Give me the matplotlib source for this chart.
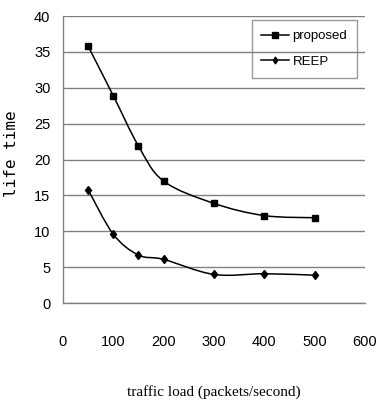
import numpy as np
import matplotlib
matplotlib.use("Agg")
import matplotlib.pyplot as plt
from matplotlib.path import Path
from matplotlib.patches import PathPatch

# values
traffic = [50, 100, 150, 200, 300, 400, 500]
proposed = [35.8, 28.9, 21.9, 17.0, 13.9, 12.2, 11.9]
reep = [15.8, 9.6, 6.7, 6.1, 4.0, 4.1, 3.9]
xticks = [0, 100, 200, 300, 400, 500, 600]
yticks = [0, 5, 10, 15, 20, 25, 30, 35, 40]

tick_font = dict(family='Liberation Sans', size=10.5)


def smooth_path(x, y):
    # excel-like smoothed line: catmull-rom segments as cubic bezier curves
    x = np.asarray(x, float)
    y = np.asarray(y, float)
    verts = [(x[0], y[0])]
    codes = [Path.MOVETO]
    n = len(x)
    for i in range(n - 1):
        i0 = max(i - 1, 0)
        i3 = min(i + 2, n - 1)
        c1 = (x[i] + (x[i + 1] - x[i0]) / 6, y[i] + (y[i + 1] - y[i0]) / 6)
        c2 = (x[i + 1] - (x[i3] - x[i]) / 6, y[i + 1] - (y[i3] - y[i]) / 6)
        verts += [c1, c2, (x[i + 1], y[i + 1])]
        codes += [Path.CURVE4] * 3
    return Path(verts, codes)


fig = plt.figure(figsize=(3.77, 4.01), dpi=100)
ax = fig.add_axes([0.167, 0.244, 0.801, 0.716])

ax.add_patch(PathPatch(smooth_path(traffic, proposed), fill=False, color='black', lw=1.1, zorder=3))
ax.add_patch(PathPatch(smooth_path(traffic, reep), fill=False, color='black', lw=1.1, zorder=3))
ax.plot(traffic, proposed, ls='none', marker='s', ms=5, color='black', zorder=4)
ax.plot(traffic, reep, ls='none', marker='d', ms=4.5, color='black', zorder=4)

# legend handles
h1, = ax.plot([], [], color='black', lw=1.1, marker='s', ms=4, label='proposed')
h2, = ax.plot([], [], color='black', lw=1.1, marker='d', ms=3.5, label='REEP')

ax.set_xlim(0, 600)
ax.set_ylim(0, 40)
ax.set_xticks(xticks)
ax.set_yticks(yticks)
ax.set_xticklabels([str(v) for v in xticks], **tick_font)
ax.set_yticklabels([str(v) for v in yticks], **tick_font)
ax.tick_params(length=0, pad=9)
ax.tick_params(axis='x', pad=23)

ax.grid(axis='y', color='#808080', lw=1.0)
ax.set_axisbelow(True)
for s in ['top', 'right']:
    ax.spines[s].set_visible(False)
for s in ['left', 'bottom']:
    ax.spines[s].set_color('#808080')
    ax.spines[s].set_linewidth(1.0)

ax.set_xlabel('traffic load (packets/second)', family='Liberation Serif', fontsize=11, labelpad=26)
ax.set_ylabel('life time', family='DejaVu Sans Mono', fontsize=11.5)
ax.yaxis.set_label_coords(-0.145, 0.52)

leg = ax.legend(handles=[h1, h2], loc='upper right', bbox_to_anchor=(0.974, 0.986),
                borderaxespad=0, prop=dict(family='Liberation Sans', size=9.5),
                frameon=True, fancybox=False, edgecolor='#808080',
                handlelength=2.1, handletextpad=0.25, borderpad=0.75, labelspacing=1.0)
leg.get_frame().set_facecolor('none')
leg.get_frame().set_linewidth(1.0)

fig.savefig('out.png', dpi=100)
